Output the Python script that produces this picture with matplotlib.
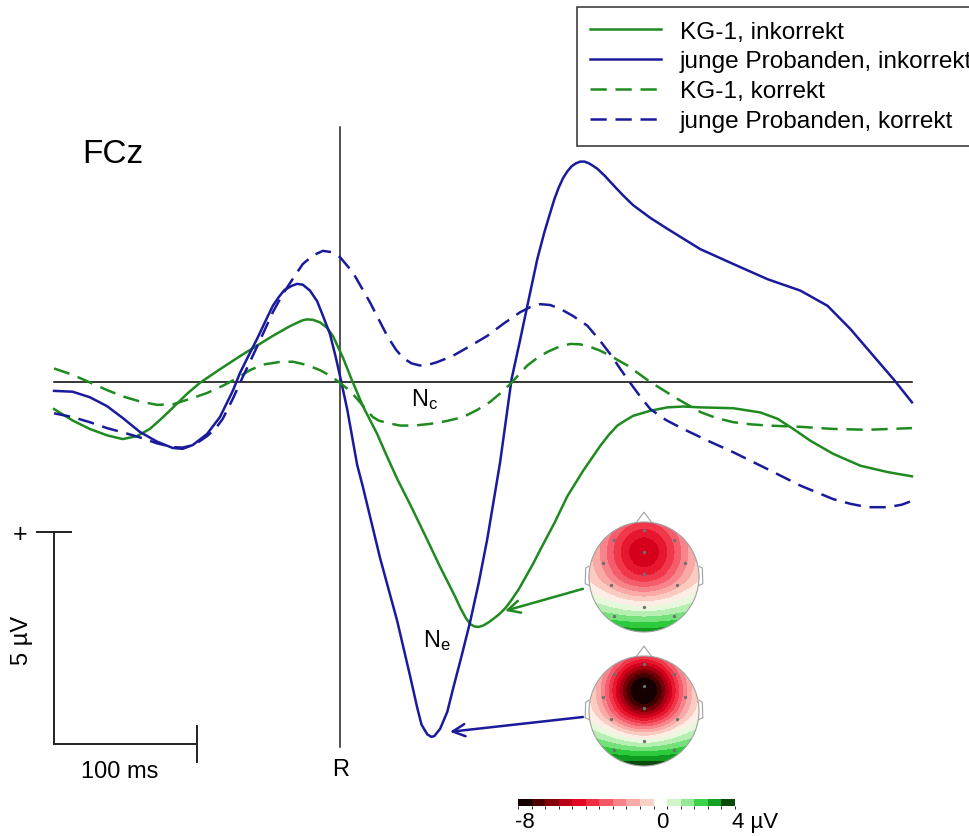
import numpy as np
import matplotlib
matplotlib.use('Agg')
import matplotlib.pyplot as plt
from matplotlib.colors import LinearSegmentedColormap, BoundaryNorm
from matplotlib.patches import Circle, Polygon
import matplotlib.cm as cm

plt.rcParams['font.family'] = ['Liberation Sans', 'DejaVu Sans']
plt.rcParams['mathtext.default'] = 'regular'

# ---------------- data: (time in ms relative to response R, amplitude in µV) ----------------
kg_ink = [(-200, -0.64), (-187, -0.91), (-175, -1.11), (-163, -1.26), (-152, -1.35), (-142, -1.28), (-133, -1.11),
          (-125, -0.87), (-117, -0.61), (-107, -0.28), (-98, -0.02), (-84, 0.30), (-70, 0.61), (-58, 0.86),
          (-47, 1.09), (-35, 1.32), (-30, 1.40), (-26, 1.46), (-23, 1.48), (-19, 1.47), (-14, 1.41), (-9, 1.28),
          (-5, 1.09), (-1, 0.80), (2, 0.58), (8, 0.07), (16, -0.57), (26, -1.23), (33, -1.77), (40, -2.29),
          (50, -2.96), (60, -3.66), (70, -4.37), (80, -5.04), (84, -5.33), (88, -5.58), (91, -5.72), (94, -5.78),
          (97, -5.79), (100, -5.76), (104, -5.68), (108, -5.58), (112, -5.47), (116, -5.33), (120, -5.15),
          (125, -4.90), (130, -4.60), (135, -4.30), (140, -3.97), (150, -3.33), (159, -2.70), (170, -2.10),
          (182, -1.51), (188, -1.25), (194, -1.03), (200, -0.90), (205, -0.80), (217, -0.68), (229, -0.60),
          (240, -0.58), (252, -0.60), (275, -0.62), (294, -0.72), (306, -0.87), (317, -1.11), (329, -1.39),
          (345, -1.70), (364, -1.98), (383, -2.13), (400, -2.23)]

jp_ink = [(-200, -0.21), (-187, -0.23), (-175, -0.36), (-163, -0.57), (-152, -0.85), (-140, -1.18), (-128, -1.41),
          (-117, -1.56), (-110, -1.58), (-103, -1.49), (-93, -1.23), (-84, -0.83), (-75, -0.21), (-70, 0.21),
          (-64, 0.62), (-58, 1.02), (-52, 1.45), (-47, 1.80), (-43, 2.00), (-39, 2.17), (-34, 2.27), (-30, 2.32),
          (-26, 2.30), (-21, 2.16), (-16, 1.91), (-12, 1.57), (-7, 1.13), (-3, 0.59), (0, 0.14), (5, -0.64),
          (12, -1.96), (16, -2.48), (28, -4.16), (40, -5.65), (49, -6.95), (54, -7.70), (57, -8.10), (61, -8.33),
          (64, -8.39), (66, -8.37), (70, -8.20), (75, -7.80), (79, -7.26), (85, -6.48), (91, -5.67), (97, -4.75),
          (103, -3.71), (108, -2.70), (112, -1.89), (116, -0.91), (120, 0.07), (126, 1.00), (131, 1.80),
          (138, 2.91), (143, 3.55), (147, 4.00), (150, 4.33), (153, 4.60), (156, 4.82), (159, 4.98), (162, 5.10),
          (165, 5.17), (168, 5.21), (171, 5.21), (174, 5.17), (177, 5.11), (180, 5.04), (185, 4.88), (191, 4.66),
          (198, 4.41), (205, 4.18), (217, 3.88), (229, 3.62), (252, 3.14), (275, 2.79), (299, 2.43), (322, 2.16),
          (341, 1.80), (357, 1.25), (373, 0.62), (387, 0.07), (400, -0.48)]

kg_kor = [(-200, 0.32), (-187, 0.17), (-175, -0.01), (-163, -0.19), (-152, -0.34), (-140, -0.46), (-128, -0.54),
          (-117, -0.53), (-105, -0.40), (-93, -0.26), (-82, -0.09), (-72, 0.09), (-63, 0.28), (-54, 0.41),
          (-43, 0.47), (-33, 0.48), (-23, 0.40), (-14, 0.28), (-7, 0.15), (0, -0.02), (7, -0.21), (12, -0.40),
          (18, -0.64), (23, -0.83), (27, -0.91), (32, -0.96), (42, -1.03), (52, -1.03), (63, -0.99), (75, -0.92),
          (86, -0.83), (96, -0.66), (105, -0.47), (112, -0.27), (119, -0.05), (125, 0.17), (131, 0.39),
          (138, 0.57), (145, 0.71), (153, 0.83), (161, 0.90), (168, 0.89), (175, 0.83), (182, 0.74), (189, 0.62),
          (201, 0.39), (217, 0.0), (236, -0.40), (252, -0.71), (263, -0.85), (275, -0.95), (287, -1.00),
          (299, -1.03), (322, -1.06), (345, -1.11), (369, -1.13), (400, -1.09)]

jp_kor = [(-200, -0.74), (-187, -0.83), (-175, -0.95), (-163, -1.09), (-152, -1.19), (-140, -1.31), (-128, -1.45),
          (-117, -1.54), (-110, -1.55), (-105, -1.51), (-99, -1.42), (-93, -1.28), (-87, -1.10), (-82, -0.87),
          (-75, -0.40), (-68, 0.12), (-61, 0.62), (-54, 1.13), (-47, 1.65), (-40, 2.08), (-33, 2.44), (-26, 2.79),
          (-19, 2.99), (-12, 3.10), (-6, 3.07), (0, 2.95), (9, 2.59), (21, 1.88), (33, 1.09), (39, 0.77),
          (44, 0.57), (50, 0.44), (56, 0.39), (62, 0.41), (68, 0.47), (79, 0.62), (91, 0.85), (103, 1.09),
          (114, 1.37), (126, 1.65), (133, 1.77), (140, 1.84), (147, 1.82), (154, 1.73), (163, 1.56), (173, 1.33),
          (182, 0.97), (189, 0.66), (196, 0.31), (201, 0.07), (209, -0.30), (217, -0.64), (228, -0.90),
          (240, -1.11), (258, -1.40), (275, -1.66), (299, -2.06), (322, -2.45), (345, -2.77), (357, -2.88),
          (369, -2.96), (383, -2.96), (393, -2.90), (400, -2.81)]

labels = ['KG-1, inkorrekt', 'junge Probanden, inkorrekt', 'KG-1, korrekt', 'junge Probanden, korrekt']

# scale bar
scale_ms = 100
scale_uv = 5
scale_origin = (-200, -8.55)

# topography parameters (peak amplitude, width, peak position, offset, posterior positivity)
topo_kg = dict(A=-6.2, sigma=0.62, y0=0.45, c0=0.6, P=3.5)
topo_jp = dict(A=-10.0, sigma=0.5, y0=0.37, c0=0.8, P=4.0)
cbar_min, cbar_max = -8, 4

GREEN = '#1f8a1f'
BLUE = '#1a1a9c'

# ---------------- figure ----------------
W, H = 970, 837
fig = plt.figure(figsize=(W / 100, H / 100), dpi=100)
ax = fig.add_axes([0, 0, 1, 1])
ax.set_xlim(-237.8, 440.6)
ax.set_ylim(-10.733, 9.054)
ax.axis('off')

lw = 1.8
DASH = (0, (6.5, 3.5))
ax.plot([-200, 400], [0, 0], color='black', lw=1.1, zorder=1)
ax.plot([0, 0], [6.03, -8.63], color='#222222', lw=1.1, zorder=1)

series = [(kg_ink, GREEN, '-'), (jp_ink, BLUE, '-'), (kg_kor, GREEN, DASH), (jp_kor, BLUE, DASH)]
for (pts, col, ls), lab in zip(series, labels):
    tt = [p[0] for p in pts]
    vv = [p[1] for p in pts]
    ax.plot(tt, vv, color=col, lw=lw, ls=ls, label=lab, zorder=3,
            solid_joinstyle='round', dash_joinstyle='round')

leg = ax.legend(loc='upper left', bbox_to_anchor=(577 / W, 1 - 8 / H), bbox_transform=fig.transFigure,
                borderaxespad=0, borderpad=0.55, handlelength=2.9, handletextpad=0.75,
                labelspacing=0.32, fontsize=17.6, fancybox=False, framealpha=1, edgecolor='#404040')
leg.get_frame().set_linewidth(1.2)

# texts
ax.text(-180.4, 5.39, 'FCz', fontsize=24, ha='left', va='center')
ax.text(0.7, -9.15, 'R', fontsize=17, ha='center', va='center')
ax.text(59.4, -0.40, 'N$_c$', fontsize=17, ha='center', va='center')
ax.text(67.8, -6.08, 'N$_e$', fontsize=17, ha='center', va='center')

# scale bar
sx, sy = scale_origin
ax.plot([sx, sx], [sy, sy + scale_uv], color='#222222', lw=1.4)
ax.plot([sx - 11.9, sx + 12], [sy + scale_uv, sy + scale_uv], color='#222222', lw=1.4)
ax.plot([sx, sx + scale_ms], [sy, sy], color='#222222', lw=1.4)
ax.plot([sx + scale_ms, sx + scale_ms], [sy + 0.42, sy - 0.43], color='#222222', lw=1.4)
ax.text(sx - 23.8, sy + scale_uv - 0.04, '+', fontsize=18, ha='center', va='center')
ax.text(sx - 22.4, -6.08, '5 µV', fontsize=17, ha='center', va='center', rotation=90)
ax.text(sx + 46.2, -9.20, '100 ms', fontsize=17, ha='center', va='center')

# arrows
ax.annotate('', xy=(115.4, -5.41), xytext=(169.9, -4.89),
            arrowprops=dict(arrowstyle='->', color=GREEN, lw=1.8, mutation_scale=22, shrinkA=0, shrinkB=0))
ax.annotate('', xy=(76.9, -8.27), xytext=(169.9, -7.92),
            arrowprops=dict(arrowstyle='->', color=BLUE, lw=1.8, mutation_scale=22, shrinkA=0, shrinkB=0))

# colormap
cpos = [(-8, '#140000'), (-7, '#5a0000'), (-6, '#a00010'), (-5, '#e0001e'), (-4, '#f02c40'),
        (-3, '#f56070'), (-2, '#f89898'), (-1, '#fbc8c0'), (-0.3, '#fde8dc'), (0, '#ffffff'),
        (0.5, '#e6f8da'), (1.5, '#a0eba0'), (2.5, '#30d040'), (3.3, '#109a20'), (4, '#0a4a0a')]
cmap = LinearSegmentedColormap.from_list(
    'erp', [((v - cbar_min) / (cbar_max - cbar_min), c) for v, c in cpos])
levels = np.linspace(cbar_min, cbar_max, 17)
norm = BoundaryNorm(levels, cmap.N, extend='both')


def draw_head(cx, cy, r_px, p):
    half = 70
    tax = fig.add_axes([(cx - half) / W, (H - cy - half) / H, 2 * half / W, 2 * half / H])
    lim = half / r_px
    tax.set_xlim(-lim, lim)
    tax.set_ylim(-lim, lim)
    tax.axis('off')
    g = np.linspace(-1.02, 1.02, 300)
    X, Y = np.meshgrid(g, g)
    Z = p['A'] * np.exp(-(X ** 2 + (Y - p['y0']) ** 2) / (2 * p['sigma'] ** 2)) + p['c0'] \
        + p['P'] * np.clip(-Y, 0, None) ** 1.5
    cs = tax.contourf(X, Y, Z, levels=levels, cmap=cmap, norm=norm, extend='both')
    clip = Circle((0, 0), 1.0, transform=tax.transData)
    cs.set_clip_path(clip)
    tax.add_patch(Circle((0, 0), 1.0, fill=False, ec='#a0a0a0', lw=0.8))
    tax.add_patch(Polygon([(-0.14, 0.99), (0, 1.18), (0.14, 0.99)], closed=False, fill=False, ec='#a0a0a0', lw=0.8))
    for s in (-1, 1):
        tax.add_patch(Polygon([(s * 0.995, 0.2), (s * 1.06, 0.16), (s * 1.07, -0.12), (s * 0.99, -0.16)],
                              closed=False, fill=False, ec='#a0a0a0', lw=0.8))
    ex = [0, -0.55, 0.55, 0, -0.75, 0.75, 0, -0.6, 0.6, 0, -0.55, 0.55]
    ey = [0.85, 0.68, 0.68, 0.45, 0.25, 0.25, 0.05, -0.15, -0.15, -0.55, -0.7, -0.7]
    tax.scatter(ex, ey, s=2, c='#707070', zorder=5)


draw_head(644, 578, 55, topo_kg)
draw_head(644, 712, 55, topo_jp)

cax = fig.add_axes([518 / W, (H - 807) / H, 217 / W, 7 / H])
cb = fig.colorbar(cm.ScalarMappable(norm=BoundaryNorm(levels, cmap.N), cmap=cmap), cax=cax,
                  orientation='horizontal')
cb.set_ticks([])
cb.outline.set_visible(False)
fig.text(525 / W, 1 - 823 / H, '-8', fontsize=16, ha='center', va='center')
fig.text(662 / W, 1 - 823 / H, '0', fontsize=16, ha='center', va='center')
fig.text(732 / W, 1 - 823 / H, '4 µV', fontsize=16, ha='left', va='center')

fig.savefig('out.png', dpi=100)
